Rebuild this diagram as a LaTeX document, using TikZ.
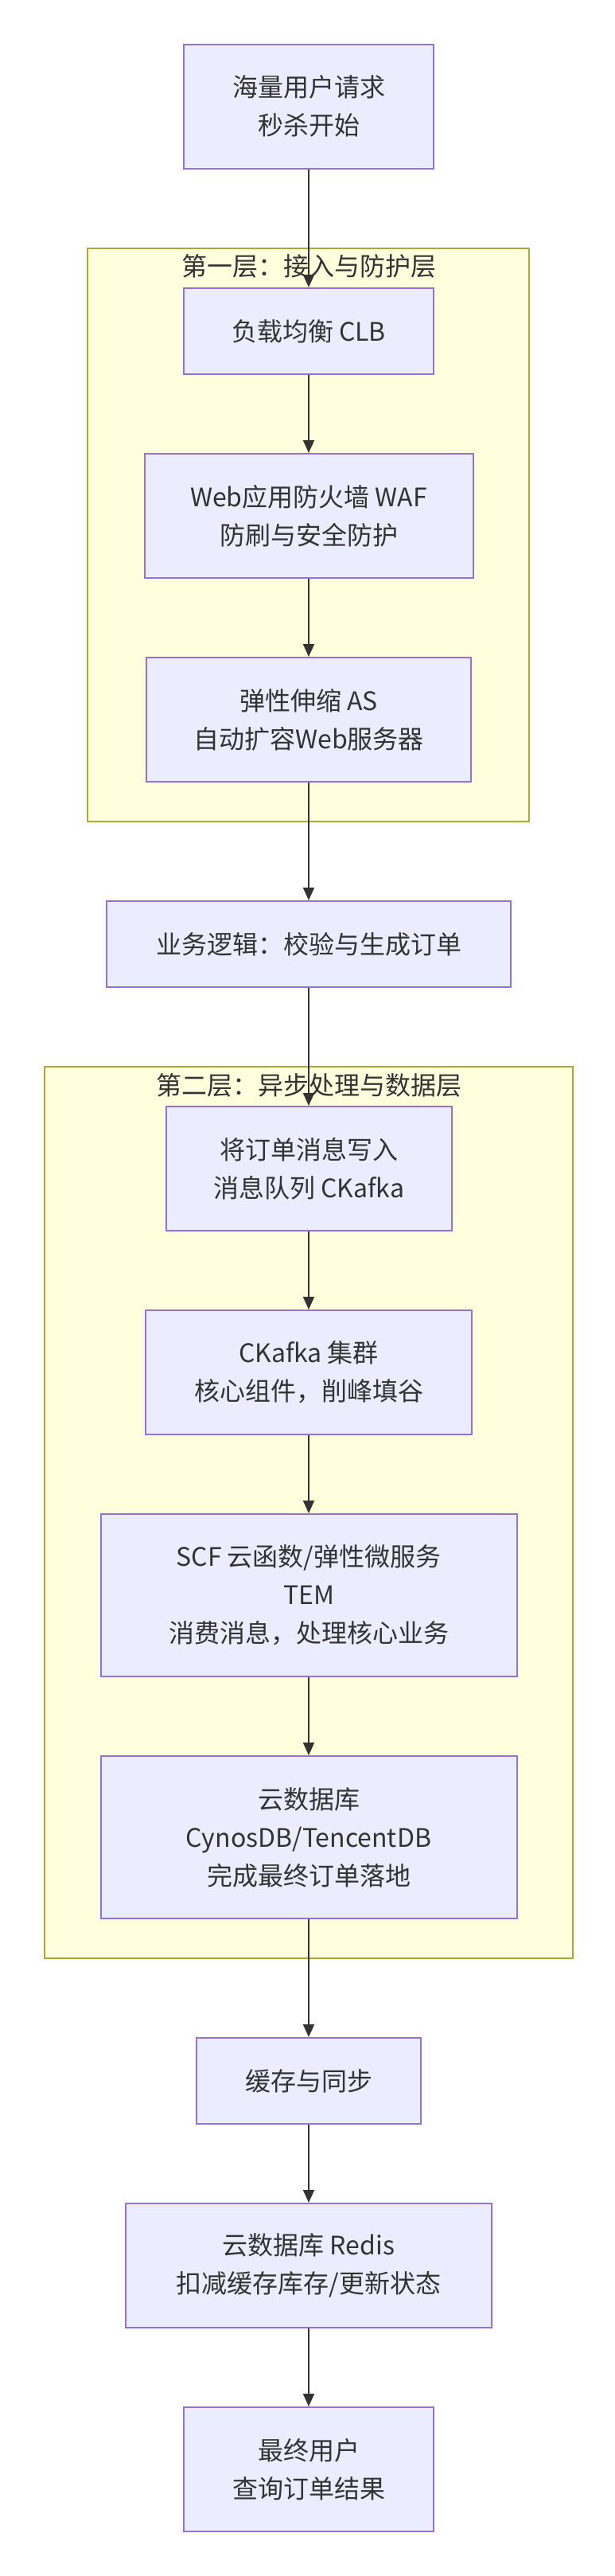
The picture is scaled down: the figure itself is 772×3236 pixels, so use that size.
\documentclass[tikz,border=0pt]{standalone}
\usepackage{fontspec}
\setmainfont{Noto Sans CJK SC}
\usetikzlibrary{arrows.meta}
\definecolor{nodefill}{HTML}{ECECFF}
\definecolor{nodeline}{HTML}{9370DB}
\definecolor{clfill}{HTML}{FFFFDE}
\definecolor{clline}{HTML}{AAAA33}
\definecolor{txt}{HTML}{333333}
\begin{document}
\begin{tikzpicture}[x=1pt,y=-1pt,
  box/.style={draw=nodeline, fill=nodefill, line width=2pt, align=center, text=txt,
    font=\fontsize{32}{48}\selectfont, inner sep=0pt},
  cluster/.style={draw=clline, fill=clfill, line width=2pt, inner sep=0pt},
  ctitle/.style={text=txt, font=\fontsize{32}{48}\selectfont, inner sep=0pt},
  arr/.style={draw=txt, line width=2pt, -{Triangle[length=16pt,width=14pt]}}]
\useasboundingbox (0,0) rectangle (772,3236);
% clusters
\node[cluster, minimum width=554.7pt, minimum height=720pt] (L1) at (387.75,671.8) {};
\node[ctitle] (L1t) at (388,334.6) {第一层：接入与防护层};
\node[cluster, minimum width=663.2pt, minimum height=1120pt] (L2) at (388,1900) {};
\node[ctitle] (L2t) at (388,1363) {第二层：异步处理与数据层};
% nodes
\node[box, minimum width=314pt, minimum height=156pt] (A) at (388,133.7) {海量用户请求\\秒杀开始};
\node[box, minimum width=314pt, minimum height=108pt] (CLB) at (388,416) {负载均衡 CLB};
\node[box, minimum width=413pt, minimum height=156pt] (WAF) at (388,648) {Web应用防火墙 WAF\\防刷与安全防护};
\node[box, minimum width=408pt, minimum height=156pt] (AS) at (388,904) {弹性伸缩 AS\\自动扩容Web服务器};
\node[box, minimum width=508pt, minimum height=108pt] (Logic) at (388,1186) {业务逻辑：校验与生成订单};
\node[box, minimum width=359pt, minimum height=156pt] (KW) at (388,1468) {将订单消息写入\\消息队列 CKafka};
\node[box, minimum width=410pt, minimum height=156pt] (KC) at (388,1724) {CKafka 集群\\核心组件，削峰填谷};
\node[box, minimum width=523pt, minimum height=204pt] (SCF) at (388,2004) {SCF 云函数/弹性微服务\\TEM\\消费消息，处理核心业务};
\node[box, minimum width=523pt, minimum height=204pt] (DB) at (388,2308) {云数据库\\CynosDB/TencentDB\\完成最终订单落地};
\node[box, minimum width=282pt, minimum height=108pt] (Cache) at (388,2614) {缓存与同步};
\node[box, minimum width=460pt, minimum height=156pt] (Redis) at (388,2846) {云数据库 Redis\\扣减缓存库存/更新状态};
\node[box, minimum width=314pt, minimum height=156pt] (Final) at (388,3102) {最终用户\\查询订单结果};
% connectors
\draw[arr] (A) -- (CLB);
\draw[arr] (CLB) -- (WAF);
\draw[arr] (WAF) -- (AS);
\draw[arr] (AS) -- (Logic);
\draw[arr] (Logic) -- (KW);
\draw[arr] (KW) -- (KC);
\draw[arr] (KC) -- (SCF);
\draw[arr] (SCF) -- (DB);
\draw[arr] (DB) -- (Cache);
\draw[arr] (Cache) -- (Redis);
\draw[arr] (Redis) -- (Final);
\end{tikzpicture}
\end{document}
